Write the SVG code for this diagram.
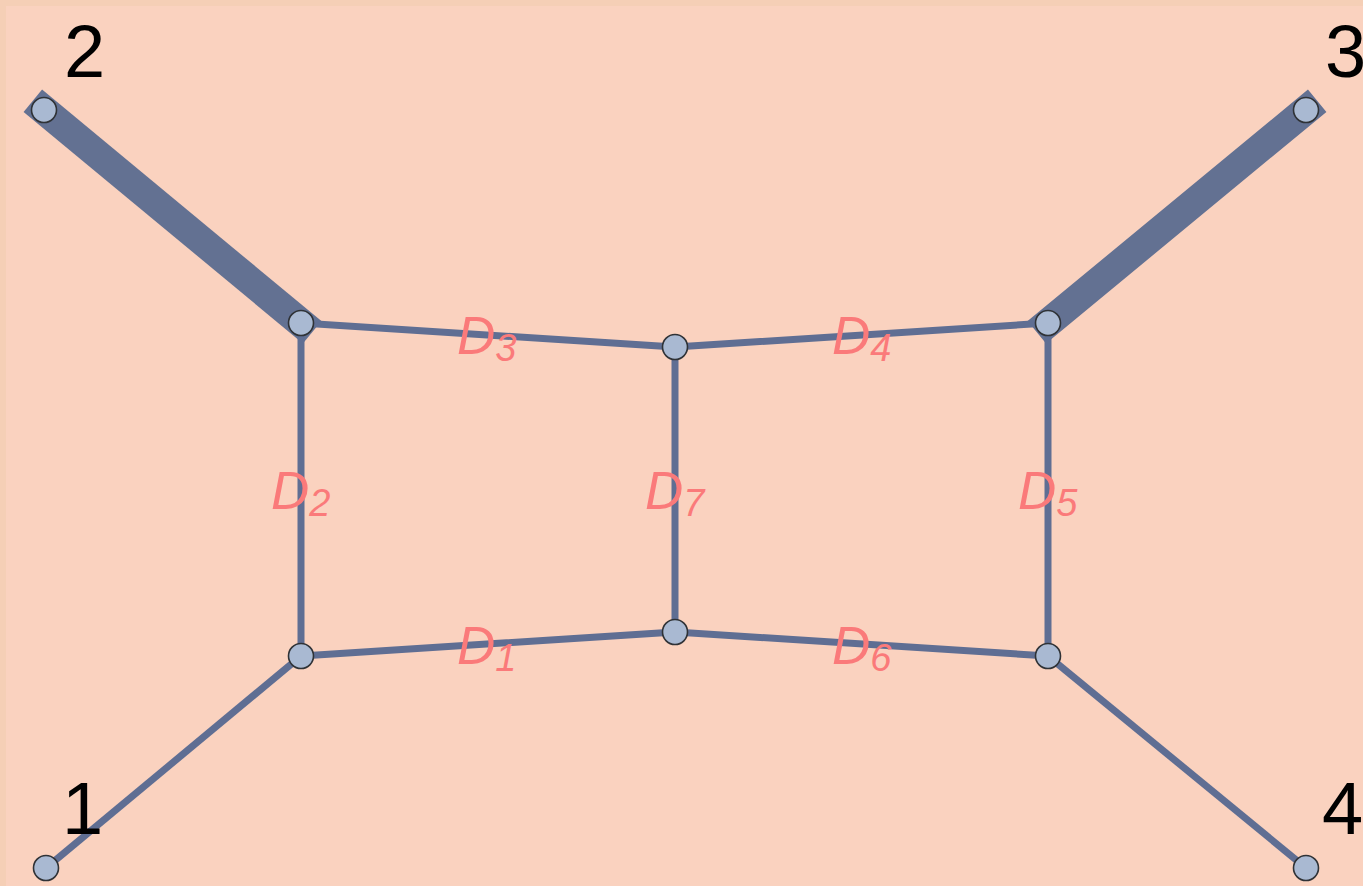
<svg xmlns="http://www.w3.org/2000/svg" width="1363" height="886" viewBox="0 0 1363 886">
<style>
.e{stroke:#5F6E93;stroke-width:7;stroke-linecap:square;fill:none}
.t{stroke:#637192;stroke-width:29;stroke-linecap:square;fill:none}
.n{fill:#A9B9D2;stroke:#2F3236;stroke-width:1.6}
.lb{font-family:"Liberation Sans",Arial,sans-serif;font-style:italic;fill:#FA7A7A}
.num{font-family:"Liberation Sans",Arial,sans-serif;font-size:74px;fill:#000}
</style>
<rect x="0" y="0" width="1363" height="886" fill="#F5CFB6"/>
<rect x="6" y="6" width="1357" height="880" fill="#FAD2BF"/>
<g id="connectors">
<line class="t" x1="44" y1="110" x2="301" y2="323"/>
<line class="t" x1="1306" y1="110" x2="1048" y2="323"/>
<line class="e" x1="46" y1="868" x2="301" y2="656"/>
<line class="e" x1="301" y1="656" x2="301" y2="323"/>
<line class="e" x1="301" y1="323" x2="675" y2="347"/>
<line class="e" x1="675" y1="347" x2="675" y2="632"/>
<line class="e" x1="675" y1="632" x2="301" y2="656"/>
<line class="e" x1="675" y1="347" x2="1048" y2="323"/>
<line class="e" x1="1048" y1="323" x2="1048" y2="656"/>
<line class="e" x1="1048" y1="656" x2="675" y2="632"/>
<line class="e" x1="1048" y1="656" x2="1306" y2="868"/>
</g>
<g id="labels">
<text class="lb" x="457" y="354" font-size="53">D<tspan font-size="38" dy="7">3</tspan></text>
<text class="lb" x="832" y="354" font-size="53">D<tspan font-size="38" dy="7">4</tspan></text>
<text class="lb" x="271" y="509" font-size="53">D<tspan font-size="38" dy="7">2</tspan></text>
<text class="lb" x="645" y="509" font-size="53">D<tspan font-size="38" dy="7">7</tspan></text>
<text class="lb" x="1018" y="509" font-size="53">D<tspan font-size="38" dy="7">5</tspan></text>
<text class="lb" x="457" y="664" font-size="53">D<tspan font-size="38" dy="7">1</tspan></text>
<text class="lb" x="832" y="664" font-size="53">D<tspan font-size="38" dy="7">6</tspan></text>
</g>
<g id="node-2"><circle class="n" cx="44" cy="110" r="12.5"/><text class="num" x="64" y="77">2</text></g>
<g id="node-3"><circle class="n" cx="1306" cy="110" r="12.5"/><text class="num" x="1325" y="77">3</text></g>
<g id="node-1"><circle class="n" cx="46" cy="868" r="12.5"/><text class="num" x="62" y="834">1</text></g>
<g id="node-4"><circle class="n" cx="1306" cy="868" r="12.5"/><text class="num" x="1322" y="834">4</text></g>
<g id="node-A"><circle class="n" cx="301" cy="323" r="12.5"/></g>
<g id="node-B"><circle class="n" cx="675" cy="347" r="12.5"/></g>
<g id="node-C"><circle class="n" cx="1048" cy="323" r="12.5"/></g>
<g id="node-D"><circle class="n" cx="301" cy="656" r="12.5"/></g>
<g id="node-E"><circle class="n" cx="675" cy="632" r="12.5"/></g>
<g id="node-F"><circle class="n" cx="1048" cy="656" r="12.5"/></g>
</svg>
